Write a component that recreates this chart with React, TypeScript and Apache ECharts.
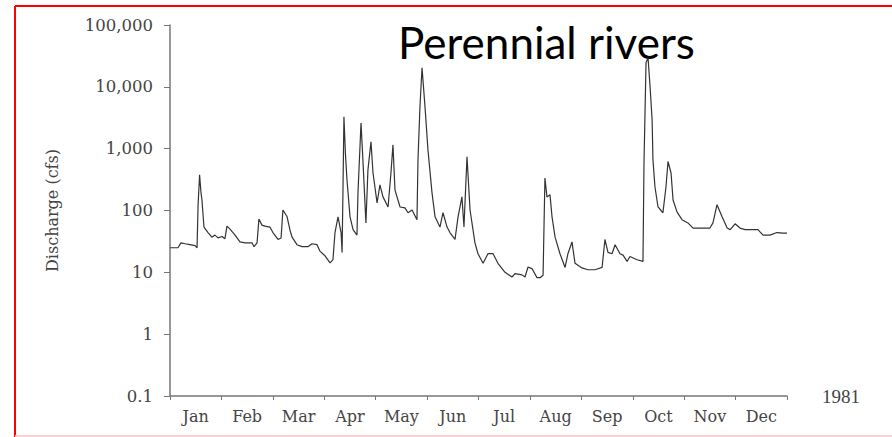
import React, { useEffect, useRef } from "react";
import * as echarts from "echarts";

const DAYS = [
  0, 4.7, 6.5, 8.9, 11.8, 14.8, 16.0, 16.6, 17.5, 18.3, 18.9, 20.1, 22.5, 24.8, 26.6, 28.4,
  30.8, 32.5, 33.7, 35.5, 38.5, 41.4, 44.4, 48.5, 49.7, 51.5, 52.6, 54.4, 56.2, 59.1, 60.9,
  63.9, 65.7, 66.8, 69.2, 71.0, 72.2, 75.1, 78.1, 81.6, 84.0, 87.0, 88.7, 91.7, 94.7, 96.4,
  97.6, 99.4, 101.2, 101.8, 102.3, 102.9, 103.8, 104.7, 106.5, 108.3, 110.6, 111.2, 113.0,
  114.2, 115.9, 117.1, 118.9, 120.1, 122.5, 124.2, 126.0, 129.0, 130.7, 131.9, 133.1, 136.1,
  139.0, 140.8, 143.2, 146.1, 146.7, 147.9, 149.1, 150.9, 152.6, 155.0, 156.8, 159.7, 161.5,
  163.9, 165.6, 168.6, 170.4, 172.7, 173.9, 175.7, 177.5, 180.4, 182.2, 185.2, 188.1, 191.1,
  194.0, 198.2, 202.3, 204.1, 208.2, 210.0, 211.8, 214.1, 217.1, 218.9, 220.7, 221.8, 223.0,
  224.8, 226.0, 227.8, 230.7, 233.7, 235.4, 237.8, 239.6, 243.7, 247.3, 251.4, 255.6, 257.3,
  259.1, 261.5, 263.3, 266.2, 268.0, 270.4, 272.1, 276.3, 279.8, 280.4, 281.6, 282.8, 284.0,
  285.2, 285.7, 286.9, 288.7, 291.6, 293.4, 294.6, 296.4, 297.6, 299.9, 302.9, 306.4, 309.4,
  313.5, 319.4, 321.2, 323.6, 326.6, 329.6, 331.4, 334.3, 337.2, 340.2, 344.9, 347.8, 350.8,
  354.9, 359.1, 362.6, 365,
];
const FLOW = [
  25, 25, 30, 29, 28, 27, 25, 120, 377, 200, 148, 54, 44, 37, 40, 36,
  38, 35, 56, 50, 40, 31, 30, 30, 26, 30, 73, 58, 56, 54, 44,
  34, 36, 102, 80, 48, 37, 28, 26, 26, 29, 28, 22, 18.5, 14.2, 16,
  44, 79, 44, 21, 193, 3270, 800, 312, 79, 49, 40, 193, 2610,
  589, 63, 454, 1290, 404, 133, 260, 166, 114, 404, 1150, 214, 114,
  110, 92, 102, 71, 660, 5000, 20300, 4570, 955, 193, 79, 54, 92,
  54, 44, 34, 79, 166, 54, 740, 102, 30, 20, 14, 20, 20,
  14, 10, 8.4, 9.5, 9.1, 8.4, 12.2, 11.5, 8.2, 8.2, 9, 335, 166,
  179, 79, 37, 20, 12, 20, 31, 14, 11.8, 11, 11, 12, 34,
  21, 20, 28, 20, 19, 15, 18, 16, 15, 589, 24500, 29500, 10000,
  2930, 660, 240, 114, 92, 240, 620, 404, 148, 95, 71, 63, 52,
  52, 52, 63, 124, 79, 52, 49, 61, 52, 49, 49, 49, 40,
  40, 44, 43, 43,
];
const MONTHS = ["Jan", "Feb", "Mar", "Apr", "May", "Jun", "Jul", "Aug", "Sep", "Oct", "Nov", "Dec"];
const Y_TICKS = [0.1, 1, 10, 100, 1000, 10000, 100000];
const Y_TICK_LABELS = ["0.1", "1", "10", "100", "1,000", "10,000", "100,000"];
const TITLE = "Perennial rivers";
const Y_NAME = "Discharge (cfs)";
const YEAR = "1981";

const SERIF = "DejaVu Serif";
const LABEL_COLOR = "#444";

export default function App() {
  const ref = useRef<HTMLDivElement>(null);
  useEffect(() => {
    if (!ref.current) return;
    const chart = echarts.init(ref.current, null, { renderer: "svg" });
    const yLabel = (v: number) => {
      let best = 0;
      let bd = Infinity;
      Y_TICKS.forEach((t, i) => {
        const d = Math.abs(Math.log10(v) - Math.log10(t));
        if (d < bd) {
          bd = d;
          best = i;
        }
      });
      return Y_TICK_LABELS[best];
    };
    chart.setOption({
      animation: false,
      backgroundColor: "#fff",
      grid: { left: 170, right: 105, top: 25, bottom: 41, containLabel: false },
      xAxis: [
        {
          type: "value",
          min: 0,
          max: 12,
          interval: 1,
          axisLine: { lineStyle: { color: "#777", width: 1.5 } },
          axisTick: { show: true, length: 4, lineStyle: { color: "#777" } },
          axisLabel: { show: false },
          splitLine: { show: false },
          name: YEAR,
          nameLocation: "end",
          nameGap: 35,
          nameTextStyle: { fontFamily: "Liberation Serif", fontSize: 19, color: LABEL_COLOR, verticalAlign: "middle" },
        },
        {
          type: "category",
          data: MONTHS,
          position: "bottom",
          boundaryGap: true,
          axisLine: { show: false },
          axisTick: { show: false },
          splitLine: { show: false },
          axisLabel: { fontFamily: SERIF, fontSize: 16, color: LABEL_COLOR, margin: 12 },
        },
      ],
      yAxis: {
        type: "log",
        logBase: 10,
        min: 0.1,
        max: 100000,
        splitNumber: 6,
        axisLine: { show: true, lineStyle: { color: "#777", width: 1.5 } },
        axisTick: { show: true, length: 6, lineStyle: { color: "#777" } },
        splitLine: { show: false },
        axisLabel: { fontFamily: SERIF, fontSize: 16.5, color: LABEL_COLOR, margin: 17, formatter: yLabel },
        name: Y_NAME,
        nameLocation: "middle",
        nameGap: 110,
        nameTextStyle: { fontFamily: SERIF, fontSize: 16, color: LABEL_COLOR },
      },
      graphic: [
        {
          type: "line",
          shape: { x1: 15, y1: 6, x2: 892, y2: 6 },
          style: { stroke: "#f00", lineWidth: 2 },
          silent: true,
        },
        {
          type: "line",
          shape: { x1: 15, y1: 6, x2: 15, y2: 437 },
          style: { stroke: "#f00", lineWidth: 2 },
          silent: true,
        },
        {
          type: "line",
          shape: { x1: 15, y1: 436, x2: 892, y2: 436 },
          style: { stroke: "#fbd0d0", lineWidth: 2 },
          silent: true,
        },
        {
          type: "text",
          left: 398,
          top: 20,
          style: { text: TITLE, fontFamily: "Lato", fontSize: 44, fill: "#000" },
        },
      ],
      series: [
        {
          type: "line",
          xAxisIndex: 0,
          data: DAYS.map((d, i) => [(d / 365) * 12, FLOW[i]]),
          showSymbol: false,
          lineStyle: { color: "#333", width: 1.2 },
        },
      ],
    });
    return () => chart.dispose();
  }, []);
  return (
    <div
      ref={ref}
      style={{ position: "fixed", left: 0, top: 0, width: 892, height: 437, background: "#fff" }}
    />
  );
}
